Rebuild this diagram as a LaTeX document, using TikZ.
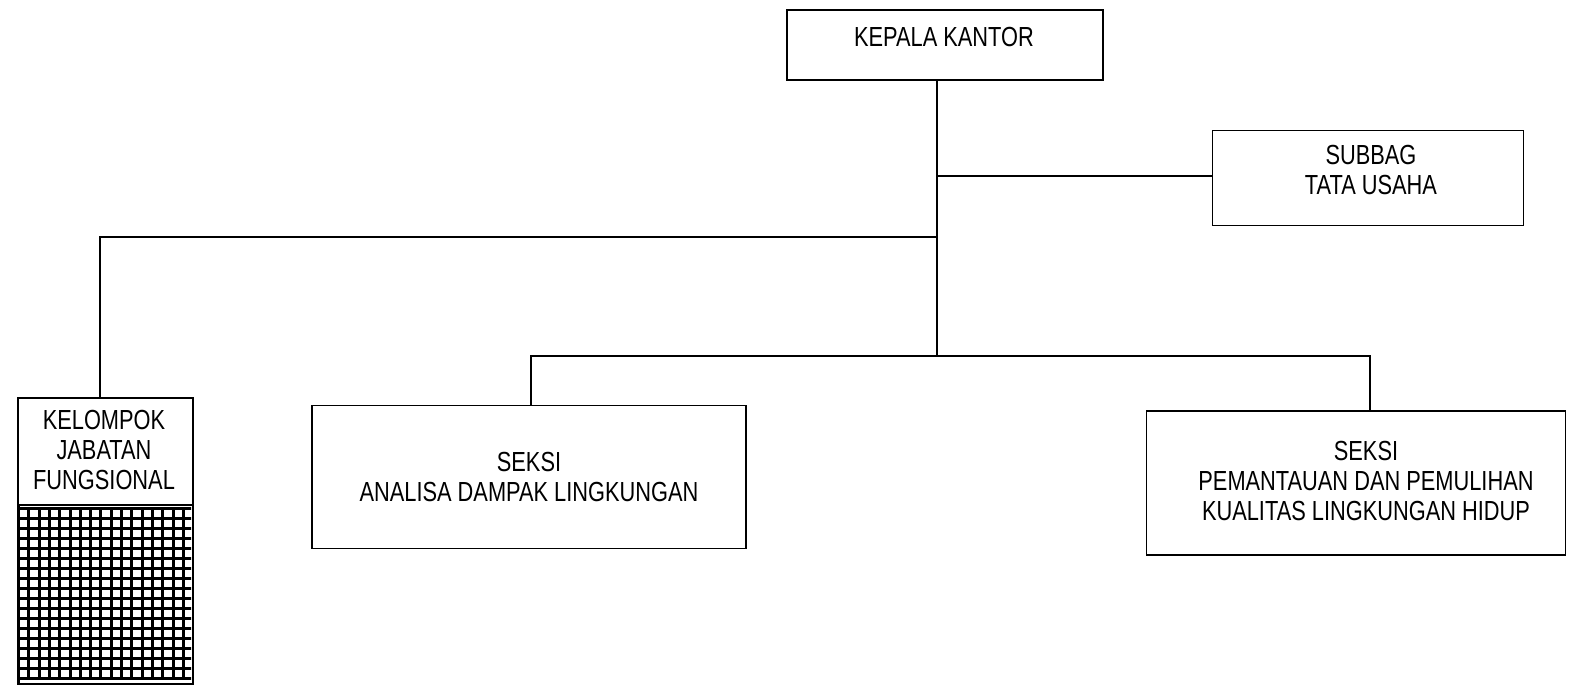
\documentclass[tikz,border=0pt]{standalone}
\usepackage{fontspec}
\setmainfont{Liberation Sans}[FakeStretch=0.79]
\begin{document}
\begin{tikzpicture}[x=1pt,y=-1pt,
  box/.style={draw, line width=1.6pt, rectangle, inner sep=0pt, align=center,
    font=\fontsize{27.6}{30}\selectfont},
  lbl/.style={inner sep=0pt, align=center, font=\fontsize{27.6}{30}\selectfont},
  wire/.style={line width=1.6pt},
  gridline/.style={line width=3pt}]
\useasboundingbox (0,0) rectangle (1569,687);

% boxes
\node[box, minimum width=316pt, minimum height=70pt] (kepala) at (945,45) {};
\node[lbl] (kepalaT) at (944,37) {KEPALA KANTOR};

\node[box, minimum width=311pt, minimum height=95pt] (subbag) at (1368,178) {};
\node[lbl] (subbagT) at (1371,170) {SUBBAG\\TATA USAHA};

\node[box, minimum width=434pt, minimum height=143pt] (analisa) at (529,477)
  {SEKSI\\ANALISA DAMPAK LINGKUNGAN};

\node[box, minimum width=419pt, minimum height=144pt] (pemantauan) at (1356,483) {};
\node[lbl] (pemantauanT) at (1366,481)
  {SEKSI\\PEMANTAUAN DAN PEMULIHAN\\KUALITAS LINGKUNGAN HIDUP};

\node[box, minimum width=175pt, minimum height=286pt] (kelompok) at (105.5,541) {};
\node[lbl] (kelompokT) at (104,450) {KELOMPOK\\JABATAN\\FUNGSIONAL};

% grid in the lower part of the Kelompok box
\draw[line width=1.2pt] (18,505) -- (193,505);
\begin{scope}
  \clip (18,507.5) rectangle (191,679.5);
  \foreach \i in {0,...,17} \draw[gridline] (18.5+\i*10.3,505) -- ++(0,180);
  \foreach \j in {0,...,17} \draw[gridline] (15,508.5+\j*10) -- ++(180,0);
\end{scope}
\draw[line width=3pt] (18.5,505) -- (18.5,684);

% connectors
\coordinate (t1) at (937,176);
\coordinate (t2) at (937,237);
\coordinate (t3) at (937,356);
\coordinate (lk) at (100,237);
\coordinate (bl) at (531,356);
\coordinate (br) at (1370,356);

\draw[wire] (kepala.south -| t1) -- (t3);
\draw[wire] (t1) -- (t1 -| subbag.west);
\draw[wire] (t2) -- (lk) -- (lk |- kelompok.north);
\draw[wire] (bl |- analisa.north) -- (bl) -- (br) -- (br |- pemantauan.north);
\end{tikzpicture}
\end{document}
